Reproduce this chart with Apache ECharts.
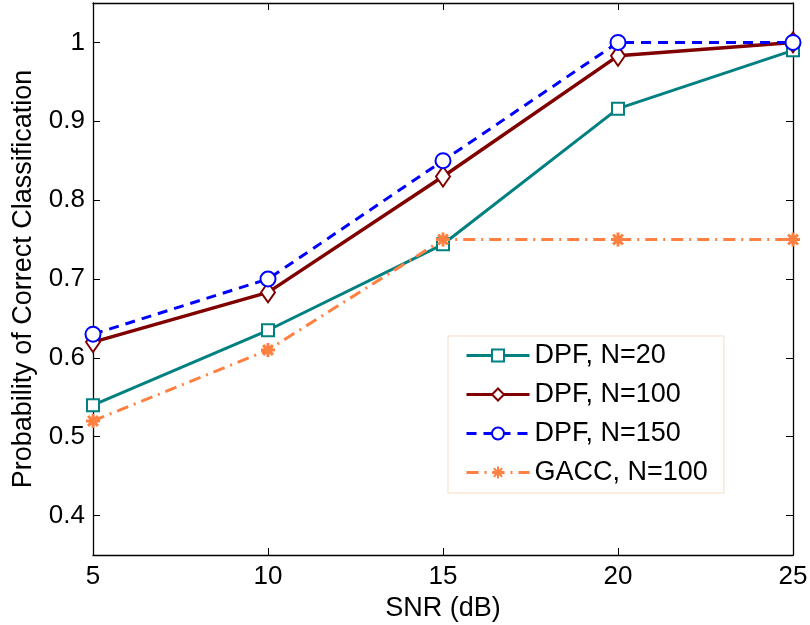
<!DOCTYPE html>
<html>
<head>
<meta charset="utf-8">
<script src="https://cdn.jsdelivr.net/npm/echarts@6/dist/echarts.min.js"></script>
<style>
  html, body { margin: 0; padding: 0; background: #fff; }
  #chart { width: 810px; height: 625px; }
</style>
</head>
<body>
<div id="chart"></div>
<script>
// SNR values on the x axis
var snr = [5, 10, 15, 20, 25];
// probability of correct classification, one list per curve
var dpf20 = [0.54, 0.635, 0.744, 0.916, 0.99];
var dpf100 = [0.62, 0.683, 0.83, 0.983, 1.0];
var dpf150 = [0.63, 0.70, 0.85, 1.0, 1.0];
var gacc100 = [0.52, 0.61, 0.75, 0.75, 0.75];
var yTicks = [0.4, 0.5, 0.6, 0.7, 0.8, 0.9, 1];
var seriesNames = ['DPF, N=20', 'DPF, N=100', 'DPF, N=150', 'GACC, N=100'];

var font = 'Liberation Sans, Arial, sans-serif';
var starPath = 'path://M0 10 L20 10 M10 0 L10 20 M3 3 L17 17 M17 3 L3 17';

function pairs(ys) {
  return snr.map(function (x, i) { return [x, ys[i]]; });
}

var chart = echarts.init(document.getElementById('chart'));

// 坐标轴公共样式
var axisLine = { show: true, lineStyle: { color: '#000', width: 1.3 } };
var axisTick = { show: true, inside: true, length: 7, lineStyle: { color: '#000', width: 1 } };

var option = {
  animation: false,
  backgroundColor: '#fff',
  grid: { left: 93, right: 17, top: 3, bottom: 70, outerBoundsMode: 'none', containLabel: false },
  legend: {
    orient: 'vertical',
    left: 448,
    top: 336,
    padding: [6, 16, 7, 17],
    itemWidth: 63,
    itemHeight: 15,
    itemGap: 12,
    backgroundColor: '#fff',
    borderColor: '#f6ead6',
    borderWidth: 1.5,
    lineStyle: { width: 3 },
    textStyle: { fontFamily: font, fontSize: 27, lineHeight: 27, color: '#000' },
    data: seriesNames
  },
  xAxis: [
    {
      type: 'value', min: 5, max: 25, interval: 5,
      name: 'SNR (dB)', nameLocation: 'middle', nameGap: 40,
      nameTextStyle: { fontFamily: font, fontSize: 27, color: '#000' },
      axisLine: axisLine, axisTick: axisTick,
      axisLabel: { fontFamily: font, fontSize: 26, color: '#000', margin: 9 },
      splitLine: { show: false }
    },
    {
      type: 'value', position: 'top', min: 5, max: 25, interval: 5,
      axisLine: axisLine, axisTick: axisTick,
      axisLabel: { show: false }, splitLine: { show: false }
    }
  ],
  yAxis: [
    {
      type: 'value', min: 0.35, max: 1.05,
      name: 'Probability of Correct Classification', nameLocation: 'middle', nameGap: 56,
      nameTextStyle: { fontFamily: font, fontSize: 27, color: '#000' },
      axisLine: axisLine,
      axisTick: Object.assign({}, axisTick, { customValues: yTicks }),
      axisLabel: { fontFamily: font, fontSize: 26, color: '#000', margin: 8, customValues: yTicks },
      splitLine: { show: false }
    },
    {
      type: 'value', position: 'right', min: 0.35, max: 1.05,
      axisLine: axisLine,
      axisTick: Object.assign({}, axisTick, { customValues: yTicks }),
      axisLabel: { show: false, customValues: yTicks }, splitLine: { show: false }
    }
  ],
  series: [
    {
      name: seriesNames[0], type: 'line', data: pairs(dpf20),
      symbol: 'emptyRect', symbolSize: 12,
      lineStyle: { color: '#008080', width: 3 },
      itemStyle: { color: '#008080', borderWidth: 2.5 }
    },
    {
      name: seriesNames[1], type: 'line', data: pairs(dpf100),
      symbol: 'emptyDiamond', symbolSize: [14, 20],
      lineStyle: { color: '#800000', width: 3.5 },
      itemStyle: { color: '#800000', borderWidth: 2.5 }
    },
    {
      name: seriesNames[2], type: 'line', data: pairs(dpf150),
      symbol: 'emptyCircle', symbolSize: 15,
      lineStyle: { color: '#0000ff', width: 3, type: [10, 7] },
      itemStyle: { color: '#0000ff', borderWidth: 3 }
    },
    {
      name: seriesNames[3], type: 'line', data: pairs(gacc100),
      symbol: starPath, symbolSize: 14,
      lineStyle: { color: '#ff8040', width: 3, type: [12, 6, 2, 6] },
      itemStyle: { color: '#ff8040', borderColor: '#ff8040', borderWidth: 3 }
    }
  ]
};

chart.setOption(option);
</script>
</body>
</html>
